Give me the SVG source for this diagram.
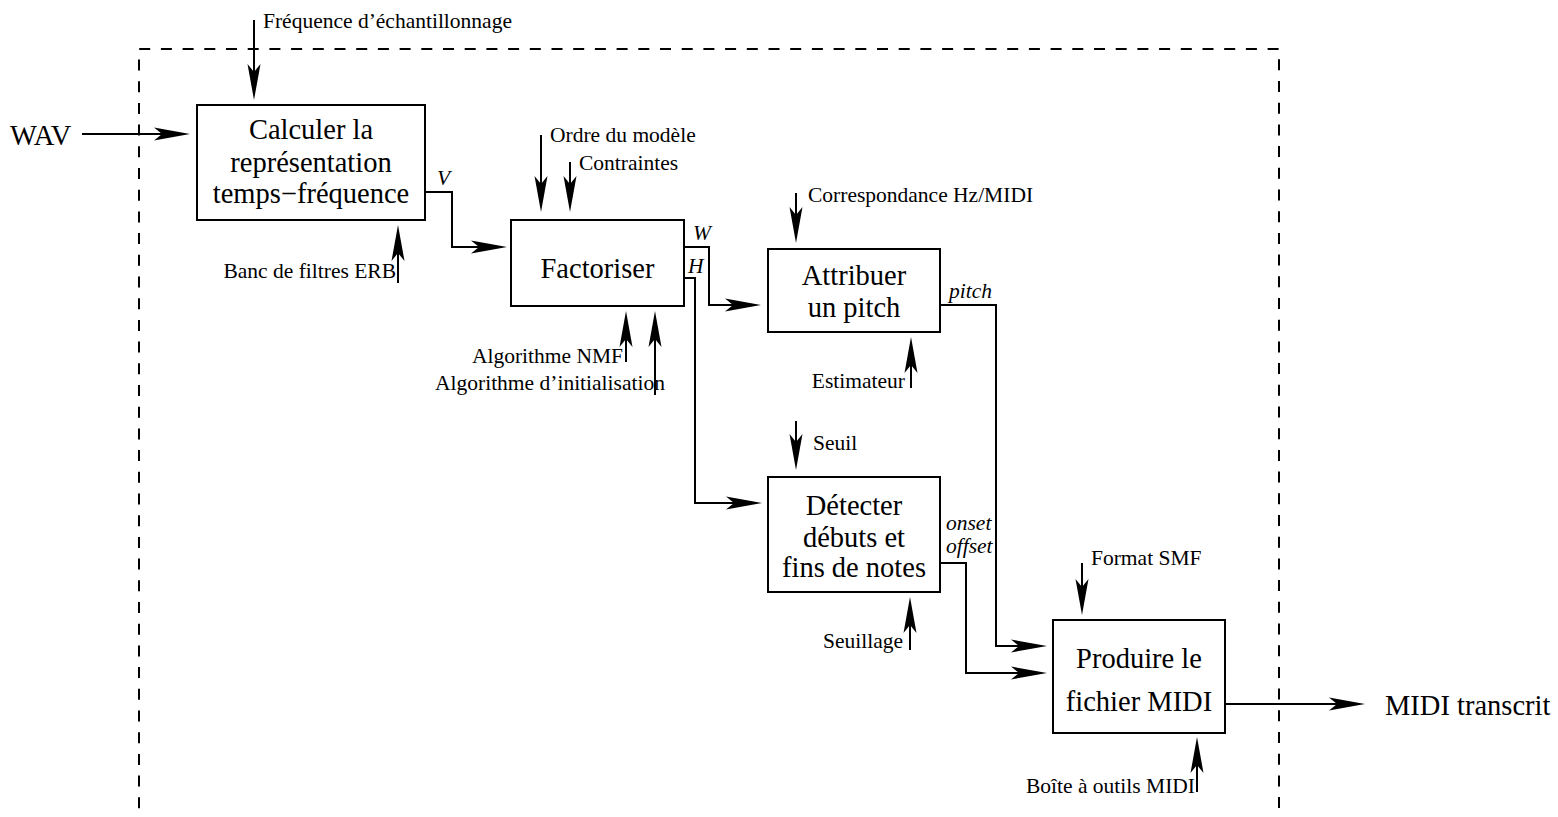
<svg xmlns="http://www.w3.org/2000/svg" width="1558" height="817" viewBox="0 0 1558 817">
<style>
.box{fill:#fff;stroke:#000;stroke-width:2}
.c{fill:none;stroke:#000;stroke-width:2}
.big{font-family:"Liberation Serif","Times New Roman",serif;font-size:28.5px;fill:#000}
.mid{text-anchor:middle}
.lab{font-family:"Liberation Serif","Times New Roman",serif;font-size:21.5px;fill:#000}
.it{font-style:italic}
.end{text-anchor:end}
</style>
<defs>
<marker id="ah" markerUnits="userSpaceOnUse" viewBox="-30 -8 42 16" refX="0" refY="0" markerWidth="42" markerHeight="16" orient="auto" overflow="visible">
<path d="M10,0 L-26,-6.5 L-18,0 L-26,6.5 Z" fill="#000"/>
</marker>
</defs>
<rect width="1558" height="817" fill="#fff"/>
<path d="M139,830 V49 H1279 V830" fill="none" stroke="#000" stroke-width="2" stroke-dasharray="11 10.7"/>
<g id="connectors">
<path class="c" d="M82,134 H180" marker-end="url(#ah)"/>
<path class="c" d="M426,192 H452 V247 H497" marker-end="url(#ah)"/>
<path class="c" d="M684,247 H709 V305 H751" marker-end="url(#ah)"/>
<path class="c" d="M684,278 H695 V503 H752" marker-end="url(#ah)"/>
<path class="c" d="M940,305 H996 V646 H1037" marker-end="url(#ah)"/>
<path class="c" d="M940,563 H966 V673 H1037" marker-end="url(#ah)"/>
<path class="c" d="M1225,704 H1355" marker-end="url(#ah)"/>
<path class="c" d="M254,20 V90" marker-end="url(#ah)"/>
<path class="c" d="M541,135 V202" marker-end="url(#ah)"/>
<path class="c" d="M570,162 V202" marker-end="url(#ah)"/>
<path class="c" d="M398,283 V235" marker-end="url(#ah)"/>
<path class="c" d="M626,362 V321" marker-end="url(#ah)"/>
<path class="c" d="M655,395 V321" marker-end="url(#ah)"/>
<path class="c" d="M796,193 V233" marker-end="url(#ah)"/>
<path class="c" d="M911,388 V347" marker-end="url(#ah)"/>
<path class="c" d="M796,421 V460" marker-end="url(#ah)"/>
<path class="c" d="M910,650 V607" marker-end="url(#ah)"/>
<path class="c" d="M1082,563 V605" marker-end="url(#ah)"/>
<path class="c" d="M1197,792 V747" marker-end="url(#ah)"/>
</g>
<g id="labels">
<text class="big" x="10" y="145">WAV</text>
<text class="big" x="1385" y="715">MIDI transcrit</text>
<text class="lab" x="263" y="28">Fréquence d’échantillonnage</text>
<text class="lab" x="550" y="142">Ordre du modèle</text>
<text class="lab" x="579" y="170">Contraintes</text>
<text class="lab end" x="396" y="278">Banc de filtres ERB</text>
<text class="lab end" x="623" y="363">Algorithme NMF</text>
<text class="lab" x="435" y="390">Algorithme d’initialisation</text>
<text class="lab" x="808" y="202">Correspondance Hz/MIDI</text>
<text class="lab end" x="905" y="388">Estimateur</text>
<text class="lab" x="813" y="450">Seuil</text>
<text class="lab end" x="903" y="648">Seuillage</text>
<text class="lab" x="1091" y="565">Format SMF</text>
<text class="lab end" x="1195" y="793">Boîte à outils MIDI</text>
<text class="lab it" x="437" y="185">V</text>
<text class="lab it" x="693" y="240">W</text>
<text class="lab it" x="688" y="273">H</text>
<text class="lab it" x="949" y="298">pitch</text>
<text class="lab it" x="946" y="530">onset</text>
<text class="lab it" x="946" y="553">offset</text>
</g>
<g id="n1">
<rect class="box" x="197" y="105" width="228" height="115"/>
<text class="big mid" x="311" y="139">Calculer la</text>
<text class="big mid" x="311" y="172">représentation</text>
<text class="big mid" x="311" y="203">temps−fréquence</text>
</g>
<g id="n2">
<rect class="box" x="511" y="220" width="173" height="86"/>
<text class="big mid" x="597.5" y="278">Factoriser</text>
</g>
<g id="n3">
<rect class="box" x="768" y="249" width="172" height="83"/>
<text class="big mid" x="854" y="285">Attribuer</text>
<text class="big mid" x="854" y="317">un pitch</text>
</g>
<g id="n4">
<rect class="box" x="768" y="477" width="172" height="115"/>
<text class="big mid" x="854" y="515">Détecter</text>
<text class="big mid" x="854" y="547">débuts et</text>
<text class="big mid" x="854" y="577">fins de notes</text>
</g>
<g id="n5">
<rect class="box" x="1053" y="620" width="172" height="113"/>
<text class="big mid" x="1139" y="668">Produire le</text>
<text class="big mid" x="1139" y="711">fichier MIDI</text>
</g>
</svg>
